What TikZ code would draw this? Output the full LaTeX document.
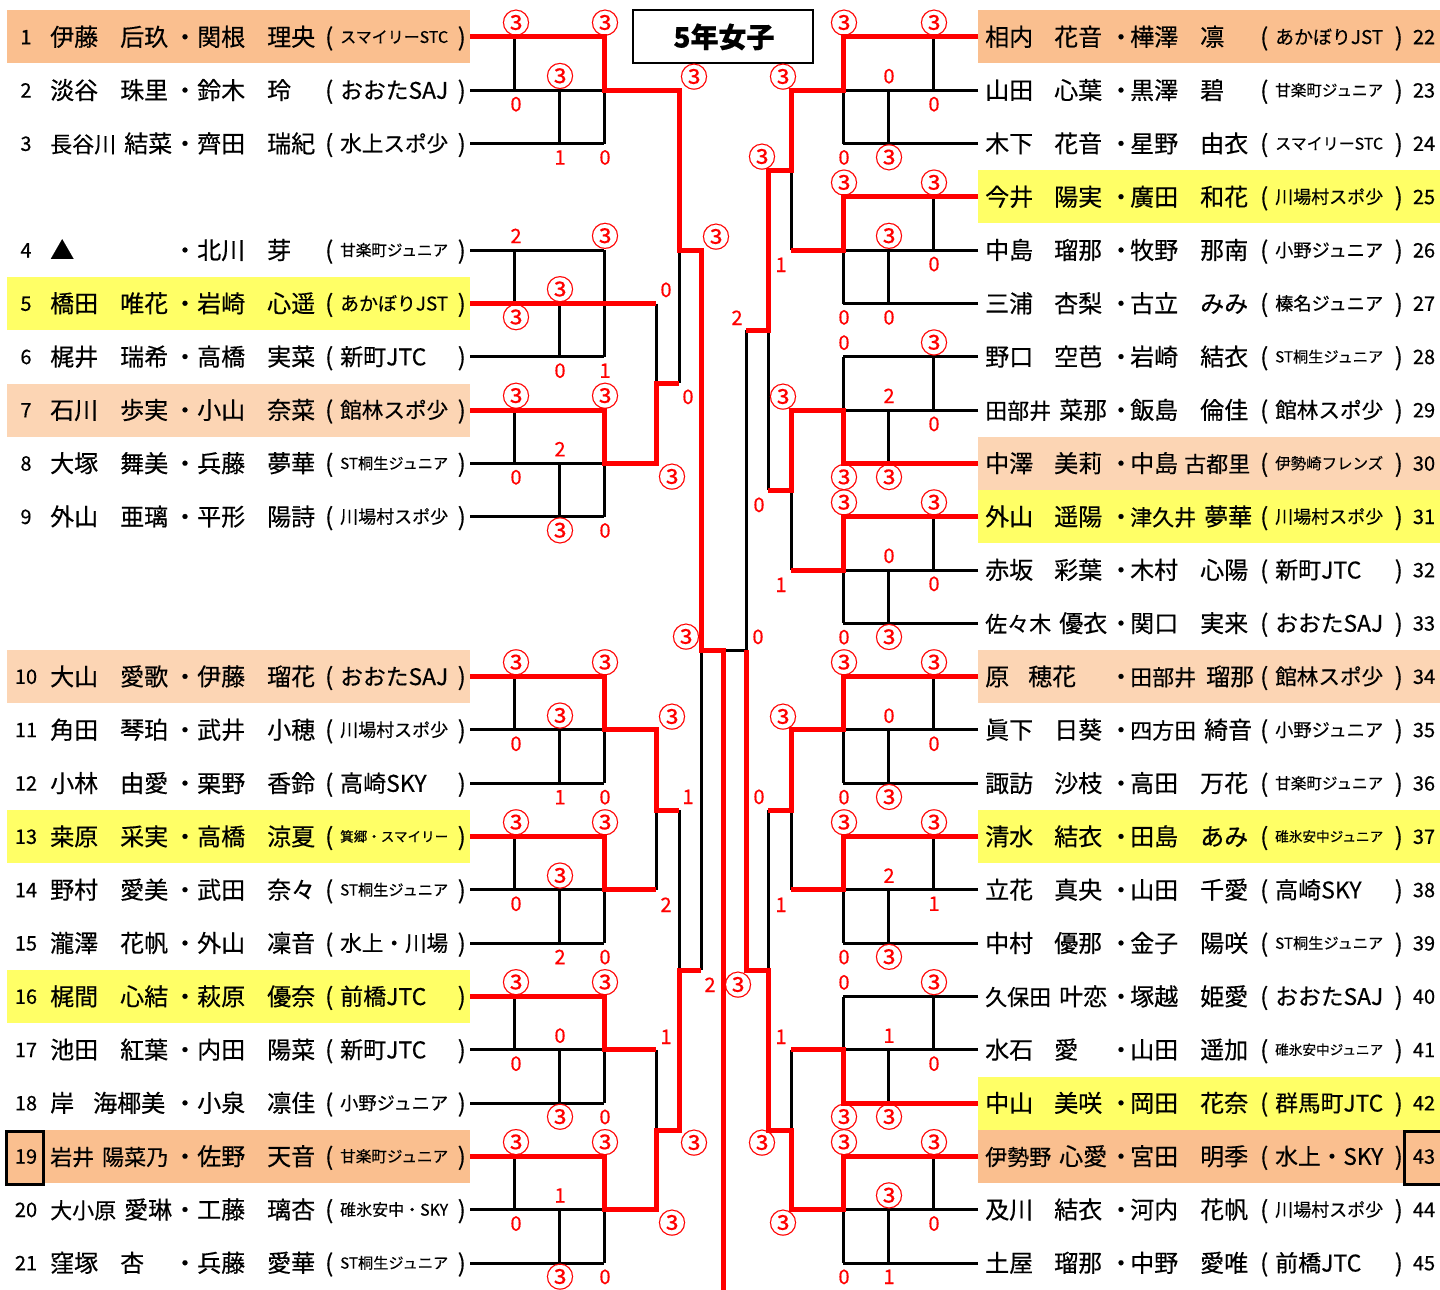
\documentclass[tikz,border=0pt]{standalone}
\usepackage{fontspec}
\setmainfont{Noto Sans CJK JP}[FakeBold=0.4]
\pgfdeclarelayer{fg}
\pgfsetlayers{main,fg}
\definecolor{orgA}{HTML}{FABF8F}
\definecolor{orgB}{HTML}{FCD5B4}
\definecolor{ylw}{HTML}{FFFF66}
\newsavebox\tbox
\newdimen\tw
\newcounter{lab}
\def\T{\raisebox{-3.3pt}{\fontsize{28}{28}\selectfont ③}}
\newcommand\sm[1]{{\fontsize{22}{22}\selectfont #1}}
\tikzset{
  blk/.style={draw=black,line width=3pt},
  rd/.style={draw=red,line width=5pt,line join=miter},
  nm/.style={anchor=base west,inner sep=0pt,font=\fontsize{24}{24}\selectfont},
  nmc/.style={anchor=base,inner sep=0pt,font=\fontsize{24}{24}\selectfont},
  par/.style={anchor=base west,inner sep=0pt,font=\fontsize{24}{24}\selectfont},
  numf/.style={anchor=base,inner sep=0pt,font=\fontsize{20}{20}\selectfont},
  sc/.style={anchor=base,inner sep=0pt,text=red,font=\fontsize{20}{20}\selectfont},
}
\newcommand\teamnode[4]{%
  \pgfinterruptpicture
  \global\setbox\tbox=\hbox{\normalfont\fontsize{23}{23}\selectfont #4}%
  \global\tw=\wd\tbox
  \endpgfinterruptpicture
  \ifdim\tw<1pt \global\tw=100pt\fi
  \pgfmathsetmacro\tfs{min(23,23*108/\the\tw)}%
  \node[anchor=base west,inner sep=0pt] (#3) at (#1,#2+0.37*\tfs) {\fontsize{\tfs}{\tfs}\selectfont #4};%
}
\newcommand\hl[4]{\fill[#1] (#2,#4-26.5) rectangle (#3,#4+26.5);}
% left row: y, num, fam1, giv1, fam2, giv2, team
\newcommand\Lrow[7]{%
  \node[numf] (n#2) at (26,#1+7.3) {#2};
  \node[nm] (a#2) at (50,#1+8.9) {#3};
  \node[nm] (b#2) at (120,#1+8.9) {#4};
  \node[nmc] (d#2) at (185,#1+8.9) {\makebox[8pt]{・}};
  \node[nm] (c#2) at (197,#1+8.9) {#5};
  \node[nm] (e#2) at (267,#1+8.9) {#6};
  \node[par] (p#2) at (325,#1+8.9) {(};
  \node[par] (q#2) at (457.5,#1+8.9) {)};
  \teamnode{340}{#1}{t#2}{#7}%
}
\newcommand\Rrow[7]{%
  \node[nm] (a#2) at (985,#1+8.9) {#3};
  \node[nm] (b#2) at (1054,#1+8.9) {#4};
  \node[nmc] (d#2) at (1121,#1+8.9) {\makebox[8pt]{・}};
  \node[nm] (c#2) at (1130,#1+8.9) {#5};
  \node[nm] (e#2) at (1200,#1+8.9) {#6};
  \node[par] (p#2) at (1260,#1+8.9) {(};
  \node[par] (q#2) at (1394.5,#1+8.9) {)};
  \teamnode{1275}{#1}{t#2}{#7}%
  \node[numf] (n#2) at (1424,#1+7.3) {#2};
}
\newcommand\lab[3]{\stepcounter{lab}\node[sc] (lab\arabic{lab}) at (#1,#2) {#3};}
% left group: ya yb yc exitx winner
\newcommand\LG[5]{%
  \draw[blk] (470,#1) -- (604,#1) (470,#2) -- (#4,#2) (470,#3) -- (604,#3)
    (514,#1) -- (514,#2) (559,#2) -- (559,#3) (604,#1) -- (604,#3);
  \begin{pgfonlayer}{fg}
  \if a#5\draw[rd] (470,#1) -- (604,#1) -- (604,#2) -- (#4,#2);\fi
  \if b#5\draw[rd] (470,#2) -- (#4,#2);\fi
  \if c#5\draw[rd] (470,#3) -- (604,#3) -- (604,#2) -- (#4,#2);\fi
  \end{pgfonlayer}
}
\newcommand\RG[4]{%
  \draw[blk] (978,#1) -- (843,#1) (978,#2) -- (791,#2) (978,#3) -- (843,#3)
    (933,#1) -- (933,#2) (888,#2) -- (888,#3) (843,#1) -- (843,#3);
  \begin{pgfonlayer}{fg}
  \if a#4\draw[rd] (978,#1) -- (843,#1) -- (843,#2) -- (791,#2);\fi
  \if b#4\draw[rd] (978,#2) -- (791,#2);\fi
  \if c#4\draw[rd] (978,#3) -- (843,#3) -- (843,#2) -- (791,#2);\fi
  \end{pgfonlayer}
}
% scores: ya yb yc s1t s1b s2t s2b s3t s3b
\newcommand\LS[9]{%
  \lab{516}{#1-7}{#4}\lab{516}{#2+21}{#5}%
  \lab{560}{#2-7}{#6}\lab{560}{#3+21}{#7}%
  \lab{605}{#1-7}{#8}\lab{605}{#3+21}{#9}%
}
\newcommand\RS[9]{%
  \lab{934}{#1-7}{#4}\lab{934}{#2+21}{#5}%
  \lab{889}{#2-7}{#6}\lab{889}{#3+21}{#7}%
  \lab{844}{#1-7}{#8}\lab{844}{#3+21}{#9}%
}
\begin{document}
\begin{tikzpicture}[x=1pt,y=-1pt]
\useasboundingbox (0,0) rectangle (1440,1290);
\fill[white] (0,0) rectangle (1440,1290);
% highlights
\hl{orgA}{7}{470}{37.0}
\hl{ylw}{7}{470}{303.5}
\hl{orgB}{7}{470}{410.1}
\hl{orgB}{7}{470}{676.6}
\hl{ylw}{7}{470}{836.6}
\hl{ylw}{7}{470}{996.5}
\hl{orgA}{7}{470}{1156.4}
\hl{orgA}{978}{1440}{37.0}
\hl{ylw}{978}{1440}{196.9}
\hl{orgB}{978}{1440}{463.4}
\hl{ylw}{978}{1440}{516.7}
\hl{orgB}{978}{1440}{676.6}
\hl{ylw}{978}{1440}{836.6}
\hl{ylw}{978}{1440}{1103.1}
\hl{orgA}{978}{1440}{1156.4}
\draw[line width=3pt] (6.5,1131) rectangle (43,1184.5);
\draw[line width=3pt] (1404.5,1131) rectangle (1446,1184.5);
% title
\draw[line width=2.5pt] (633,10) rectangle (813,63);
\node[anchor=base,inner sep=0pt,font=\fontsize{28}{28}\selectfont\bfseries] (title) at (724,47.5) {5年女子};
% left rows
\Lrow{37.0}{1}{伊藤}{后玖}{関根}{理央}{スマイリーSTC}
\Lrow{90.3}{2}{淡谷}{珠里}{鈴木}{玲}{おおたSAJ}
\Lrow{143.6}{3}{\sm{長谷川}\hspace{8pt}結菜}{}{齊田}{瑞紀}{水上スポ少}
\Lrow{250.2}{4}{▲}{}{北川}{芽}{甘楽町ジュニア}
\Lrow{303.5}{5}{橋田}{唯花}{岩崎}{心遥}{あかぼりJST}
\Lrow{356.8}{6}{梶井}{瑞希}{高橋}{実菜}{新町JTC}
\Lrow{410.1}{7}{石川}{歩実}{小山}{奈菜}{館林スポ少}
\Lrow{463.4}{8}{大塚}{舞美}{兵藤}{夢華}{ST桐生ジュニア}
\Lrow{516.7}{9}{外山}{亜璃}{平形}{陽詩}{川場村スポ少}
\Lrow{676.6}{10}{大山}{愛歌}{伊藤}{瑠花}{おおたSAJ}
\Lrow{729.9}{11}{角田}{琴珀}{武井}{小穂}{川場村スポ少}
\Lrow{783.3}{12}{小林}{由愛}{栗野}{香鈴}{高崎SKY}
\Lrow{836.6}{13}{桒原}{采実}{高橋}{涼夏}{箕郷・スマイリー}
\Lrow{889.9}{14}{野村}{愛美}{武田}{奈々}{ST桐生ジュニア}
\Lrow{943.2}{15}{瀧澤}{花帆}{外山}{凜音}{水上・川場}
\Lrow{996.5}{16}{梶間}{心結}{萩原}{優奈}{前橋JTC}
\Lrow{1049.8}{17}{池田}{紅葉}{内田}{陽菜}{新町JTC}
\Lrow{1103.1}{18}{岸\hspace{19pt}海椰美}{}{小泉}{凛佳}{小野ジュニア}
\Lrow{1156.4}{19}{\sm{岩井}\hspace{8pt}\sm{陽菜乃}}{}{佐野}{天音}{甘楽町ジュニア}
\Lrow{1209.7}{20}{\sm{大小原}\hspace{8pt}愛琳}{}{工藤}{璃杏}{碓氷安中・SKY}
\Lrow{1263.0}{21}{窪塚}{杏}{兵藤}{愛華}{ST桐生ジュニア}
% right rows
\Rrow{37.0}{22}{相内}{花音}{樺澤}{凛}{あかぼりJST}
\Rrow{90.3}{23}{山田}{心葉}{黒澤}{碧}{甘楽町ジュニア}
\Rrow{143.6}{24}{木下}{花音}{星野}{由衣}{スマイリーSTC}
\Rrow{196.9}{25}{今井}{陽実}{廣田}{和花}{川場村スポ少}
\Rrow{250.2}{26}{中島}{瑠那}{牧野}{那南}{小野ジュニア}
\Rrow{303.5}{27}{三浦}{杏梨}{古立}{みみ}{榛名ジュニア}
\Rrow{356.8}{28}{野口}{空芭}{岩崎}{結衣}{ST桐生ジュニア}
\Rrow{410.1}{29}{\sm{田部井}\hspace{8pt}菜那}{}{飯島}{倫佳}{館林スポ少}
\Rrow{463.4}{30}{中澤}{美莉}{中島\hspace{6pt}\sm{古都里}}{}{伊勢崎フレンズ}
\Rrow{516.7}{31}{外山}{遥陽}{\sm{津久井}\hspace{8pt}夢華}{}{川場村スポ少}
\Rrow{570.0}{32}{赤坂}{彩葉}{木村}{心陽}{新町JTC}
\Rrow{623.3}{33}{\sm{佐々木}\hspace{8pt}優衣}{}{関口}{実来}{おおたSAJ}
\Rrow{676.6}{34}{原\hspace{19pt}穂花}{}{\sm{田部井}\hspace{10pt}瑠那}{}{館林スポ少}
\Rrow{729.9}{35}{眞下}{日葵}{\sm{四方田}\hspace{8pt}綺音}{}{小野ジュニア}
\Rrow{783.3}{36}{諏訪}{沙枝}{高田}{万花}{甘楽町ジュニア}
\Rrow{836.6}{37}{清水}{結衣}{田島}{あみ}{碓氷安中ジュニア}
\Rrow{889.9}{38}{立花}{真央}{山田}{千愛}{高崎SKY}
\Rrow{943.2}{39}{中村}{優那}{金子}{陽咲}{ST桐生ジュニア}
\Rrow{996.5}{40}{\sm{久保田}\hspace{8pt}叶恋}{}{塚越}{姫愛}{おおたSAJ}
\Rrow{1049.8}{41}{水石}{愛}{山田}{遥加}{碓氷安中ジュニア}
\Rrow{1103.1}{42}{中山}{美咲}{岡田}{花奈}{群馬町JTC}
\Rrow{1156.4}{43}{\sm{伊勢野}\hspace{8pt}心愛}{}{宮田}{明季}{水上・SKY}
\Rrow{1209.7}{44}{及川}{結衣}{河内}{花帆}{川場村スポ少}
\Rrow{1263.0}{45}{土屋}{瑠那}{中野}{愛唯}{前橋JTC}
% groups
\LG{37.0}{90.3}{143.6}{679}{a}
\LG{250.2}{303.5}{356.8}{656}{b}
\LG{410.1}{463.4}{516.7}{656}{a}
\LG{676.6}{729.9}{783.3}{656}{a}
\LG{836.6}{889.9}{943.2}{656}{a}
\LG{996.5}{1049.8}{1103.1}{656}{a}
\LG{1156.4}{1209.7}{1263.0}{656}{a}
\RG{37.0}{90.3}{143.6}{a}
\RG{196.9}{250.2}{303.5}{a}
\RG{356.8}{410.1}{463.4}{c}
\RG{516.7}{570.0}{623.3}{a}
\RG{676.6}{729.9}{783.3}{a}
\RG{836.6}{889.9}{943.2}{a}
\RG{996.5}{1049.8}{1103.1}{c}
\RG{1156.4}{1209.7}{1263.0}{a}
% upper bracket, black
\draw[blk] (656,303.5) -- (656,463.4) (656,383) -- (679,383)
  (679,90.3) -- (679,383) (679,250.2) -- (701,250.2)
  (701,250.2) -- (701,970) (701,650) -- (746,650)
  (656,729.9) -- (656,889.9) (656,810) -- (679,810)
  (656,1049.8) -- (656,1209.7) (656,1130) -- (679,1130)
  (679,810) -- (679,1130) (679,970) -- (701,970);
\draw[blk] (791,90.3) -- (791,250.2) (791,170) -- (768,170)
  (791,410.1) -- (791,570.0) (791,490) -- (768,490)
  (768,170) -- (768,490) (768,330) -- (746,330)
  (746,330) -- (746,970)
  (791,729.9) -- (791,889.9) (791,810) -- (768,810)
  (791,1049.8) -- (791,1209.7) (791,1130) -- (768,1130)
  (768,810) -- (768,1130) (768,970) -- (746,970);
% upper bracket, red
\begin{pgfonlayer}{fg}
\draw[rd] (604,90.3) -- (679,90.3) -- (679,250.2) -- (701,250.2) -- (701,650) -- (723,650) -- (723,1292);
\draw[rd] (604,463.4) -- (656,463.4) -- (656,383) -- (679,383);
\draw[rd] (604,729.9) -- (656,729.9) -- (656,810) -- (679,810);
\draw[rd] (604,1209.7) -- (656,1209.7) -- (656,1130) -- (679,1130) -- (679,970) -- (701,970);
\draw[rd] (843,90.3) -- (791,90.3) -- (791,170) -- (768,170) -- (768,330) -- (746,330);
\draw[rd] (843,410.1) -- (791,410.1) -- (791,490) -- (768,490);
\draw[rd] (843,729.9) -- (791,729.9) -- (791,810) -- (768,810);
\draw[rd] (843,1209.7) -- (791,1209.7) -- (791,1130) -- (768,1130) -- (768,970) -- (746,970) -- (746,650);
\end{pgfonlayer}
% group scores
\LS{37.0}{90.3}{143.6}{\T}{0}{\T}{1}{\T}{0}
\LS{250.2}{303.5}{356.8}{2}{\T}{\T}{0}{\T}{1}
\LS{410.1}{463.4}{516.7}{\T}{0}{2}{\T}{\T}{0}
\LS{676.6}{729.9}{783.3}{\T}{0}{\T}{1}{\T}{0}
\LS{836.6}{889.9}{943.2}{\T}{0}{\T}{2}{\T}{0}
\LS{996.5}{1049.8}{1103.1}{\T}{0}{0}{\T}{\T}{0}
\LS{1156.4}{1209.7}{1263.0}{\T}{0}{1}{\T}{\T}{0}
\RS{37.0}{90.3}{143.6}{\T}{0}{0}{\T}{\T}{0}
\RS{196.9}{250.2}{303.5}{\T}{0}{\T}{0}{\T}{0}
\RS{356.8}{410.1}{463.4}{\T}{0}{2}{\T}{0}{\T}
\RS{516.7}{570.0}{623.3}{\T}{0}{0}{\T}{\T}{0}
\RS{676.6}{729.9}{783.3}{\T}{0}{0}{\T}{\T}{0}
\RS{836.6}{889.9}{943.2}{\T}{1}{2}{\T}{\T}{0}
\RS{996.5}{1049.8}{1103.1}{\T}{0}{1}{\T}{0}{\T}
\RS{1156.4}{1209.7}{1263.0}{\T}{0}{\T}{1}{\T}{0}
% upper scores (centre x, centre y + 7)
\lab{694}{84}{\T}
\lab{716}{244}{\T}
\lab{666}{297}{0}
\lab{688}{404}{0}
\lab{672}{484}{\T}
\lab{686}{644}{\T}
\lab{672}{724}{\T}
\lab{688}{804}{1}
\lab{666}{912}{2}
\lab{710}{992}{2}
\lab{666}{1044}{1}
\lab{694}{1150}{\T}
\lab{672}{1230}{\T}
\lab{783}{84}{\T}
\lab{762}{164}{\T}
\lab{781}{272}{1}
\lab{737}{325}{2}
\lab{783}{404}{\T}
\lab{759}{512}{0}
\lab{781}{592}{1}
\lab{758}{644}{0}
\lab{783}{724}{\T}
\lab{759}{804}{0}
\lab{781}{912}{1}
\lab{738}{992}{\T}
\lab{781}{1044}{1}
\lab{762}{1150}{\T}
\lab{783}{1230}{\T}
\end{tikzpicture}
\end{document}
